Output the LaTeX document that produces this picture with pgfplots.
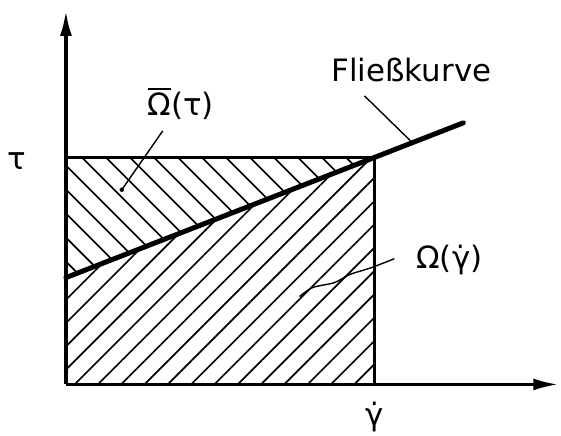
\documentclass[border=0pt]{standalone}
\usepackage{pgfplots}
\pgfplotsset{compat=1.18}
\usetikzlibrary{arrows.meta,patterns.meta}
\usepackage{fontspec}
\setmainfont{DejaVu Sans}

% Omega with a bar over it
\newcommand{\Obar}{{\setbox0\hbox{Ω}\rlap{\rule[\dimexpr\ht0+3pt\relax]{\wd0}{2.4pt}}\box0}}

\begin{document}
\begin{tikzpicture}
\begin{axis}[
  x=1bp, y=1bp,
  xmin=0, xmax=494, ymin=0, ymax=375,
  axis lines=left,
  axis line style={line width=3.6pt, -{Latex[length=26pt,width=12pt]}},
  ticks=none,
  clip=false,
  font=\fontsize{31}{37}\selectfont,
]
% overall extent of the drawing
\path (axis cs:-66,-50) rectangle (axis cs:495,385);

% area below the flow curve
\addplot[draw=none, pattern={Lines[angle=45,distance=16.5bp,line width=1.7pt]}]
  coordinates {(0,0) (309,0) (309,227) (0,107)} -- cycle;
% area above the flow curve
\addplot[draw=none, pattern={Lines[angle=-45,distance=17bp,line width=1.7pt]}]
  coordinates {(0,107) (309,227) (0,227)} -- cycle;

% tau level and gamma-dot level
\addplot[line width=3pt] coordinates {(0,227) (309,227) (309,0)};
% flow curve
\addplot[line width=5pt, line cap=round] coordinates {(0,107) (398,262)};

% leader lines
\addplot[line width=1.4pt] coordinates {(97,254) (56,195)};
\addplot[only marks, mark=*, mark size=2pt] coordinates {(56,195)};
\addplot[line width=1.4pt] coordinates {(299,289) (345,244)};
\addplot[line width=1.4pt, smooth] coordinates {(329,126) (306,117) (284,110) (269,102) (247,97) (234,88)};

% labels
\node at (axis cs:-49,224) {τ};
\node at (axis cs:115,281) {\Obar(τ)};
\node at (axis cs:346,315) {Fließkurve};
\node at (axis cs:384,125) {Ω(γ̇)};
\node at (axis cs:309,-33) {γ̇};
\end{axis}
\end{tikzpicture}
\end{document}
